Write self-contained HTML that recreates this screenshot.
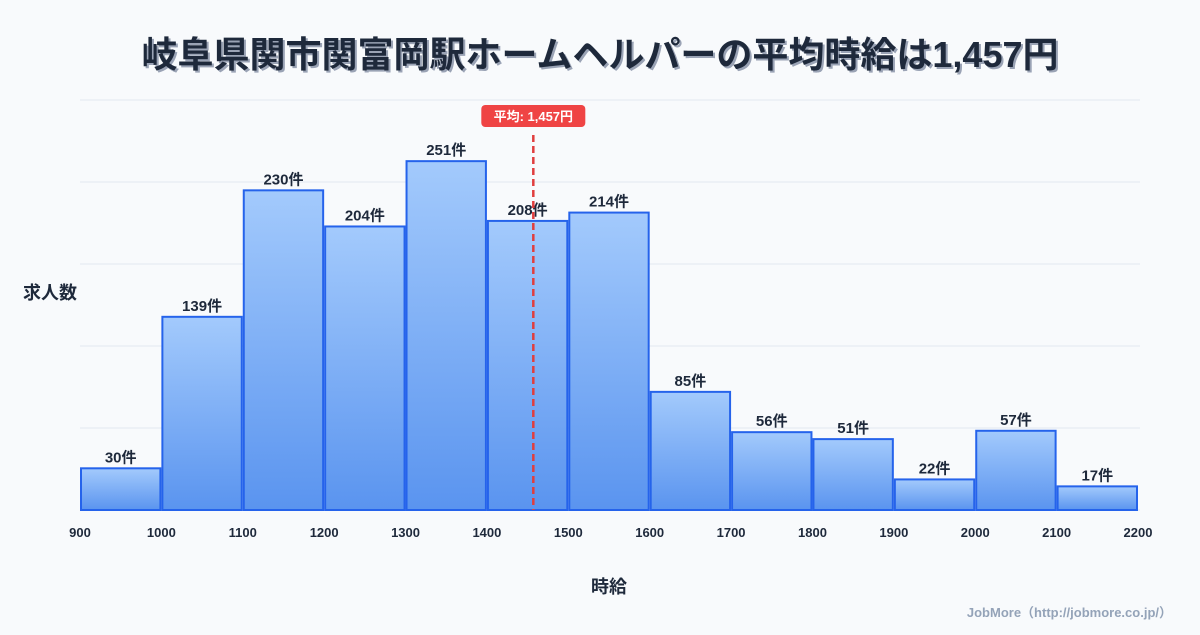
<!DOCTYPE html>
<html><head><meta charset="utf-8"><style>
body{margin:0;width:1200px;height:630px;background:#f8fafc;font-family:"Liberation Sans","Noto Sans CJK JP",sans-serif;overflow:hidden}
</style></head><body>
<svg id="c" width="1200" height="630" xmlns="http://www.w3.org/2000/svg">
<defs><linearGradient id="g" x1="0" y1="0" x2="0" y2="1"><stop offset="0" stop-color="#a3cafc"/><stop offset="1" stop-color="#5a94ef"/></linearGradient></defs>
<text x="600" y="67" text-anchor="middle" font-size="36" font-weight="bold" fill="#9aa3b5" font-family="Liberation Sans, Noto Sans CJK JP, sans-serif" dx="2" dy="2">岐阜県関市関富岡駅ホームヘルパーの平均時給は1,457円</text>
<text x="600" y="67" text-anchor="middle" font-size="36" font-weight="bold" fill="#1e293b" font-family="Liberation Sans, Noto Sans CJK JP, sans-serif">岐阜県関市関富岡駅ホームヘルパーの平均時給は1,457円</text>
<g id="grid"></g><g id="bars"></g><g id="xt"></g>
<text x="50" y="299" text-anchor="middle" font-size="18" font-weight="bold" fill="#1e293b" font-family="Liberation Sans, Noto Sans CJK JP, sans-serif">求人数</text>
<text x="609" y="593" text-anchor="middle" font-size="18" font-weight="bold" fill="#1e293b" font-family="Liberation Sans, Noto Sans CJK JP, sans-serif">時給</text>
<text x="1172" y="617" text-anchor="end" font-size="13" font-weight="bold" fill="#94a3b8" font-family="Liberation Sans, Noto Sans CJK JP, sans-serif">JobMore（http://jobmore.co.jp/）</text>
<g id="avg"></g>
</svg>
<script>
const binStarts=[900,1000,1100,1200,1300,1400,1500,1600,1700,1800,1900,2000,2100];
const counts=[30,139,230,204,251,208,214,85,56,51,22,57,17];
const xTicks=[900,1000,1100,1200,1300,1400,1500,1600,1700,1800,1900,2000,2100,2200];
const average=1457;
const NS="http://www.w3.org/2000/svg";
const X0=80,X1=1138,Y0=510,YT=100,xmin=900,xmax=2200,ymax=295;
const xs=v=>X0+(v-xmin)/(xmax-xmin)*(X1-X0);
const ys=v=>Y0-v/ymax*(Y0-YT);
function mk(t,a,p){const e=document.createElementNS(NS,t);for(const k in a)e.setAttribute(k,a[k]);p.appendChild(e);return e;}
const F="Liberation Sans, Noto Sans CJK JP, sans-serif";
const grid=document.getElementById('grid');
for(let i=0;i<=5;i++){const y=Y0-i*(Y0-YT)/5;const l=mk('line',{x1:X0,x2:1140,y1:y,y2:y,stroke:'#e2e8f0','stroke-width':1},grid);

}
const bars=document.getElementById('bars');
binStarts.forEach((b,i)=>{const x=xs(b)+1,w=xs(b+100)-xs(b)-2,y=ys(counts[i]);
const r=mk('rect',{x:x,y:y,width:w,height:Y0-y,fill:'url(#g)',stroke:'#2563eb','stroke-width':2},bars);


const t=mk('text',{x:x+w/2,y:y-6,'text-anchor':'middle','font-size':15,'font-weight':'bold',fill:'#1e293b','font-family':F},bars);
t.textContent=counts[i]+'件';

});
const xt=document.getElementById('xt');
xTicks.forEach(v=>{const t=mk('text',{x:xs(v),y:537,'text-anchor':'middle','font-size':13,'font-weight':'bold',fill:'#1e293b','font-family':F},xt);
t.textContent=v;

});
const ag=document.getElementById('avg');const ax=xs(average);
const al=mk('line',{x1:ax,x2:ax,y1:135,y2:510,stroke:'#e03e3e','stroke-width':2.5,'stroke-dasharray':'7,4'},ag);


const ar=mk('rect',{x:ax-52,y:105,width:104,height:22,rx:4,fill:'#ef4444'},ag);


const at=mk('text',{x:ax,y:121,'text-anchor':'middle','font-size':13,'font-weight':'bold',fill:'#fff','font-family':F},ag);
at.textContent='平均: 1,457円';


</script>
</body></html>
